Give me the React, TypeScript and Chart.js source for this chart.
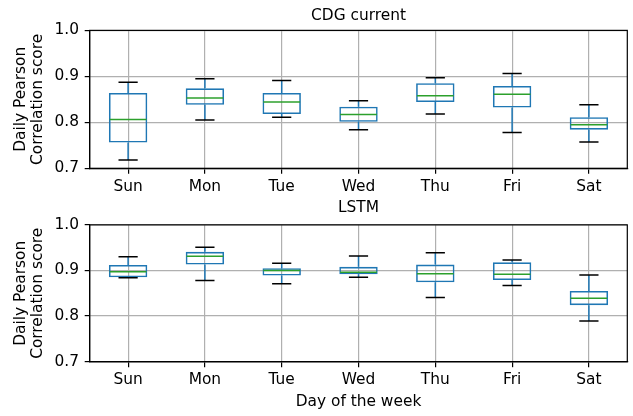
import React, { useEffect, useRef } from "react";
import { Chart, registerables } from "chart.js";

Chart.register(...registerables);

const days = ["Sun", "Mon", "Tue", "Wed", "Thu", "Fri", "Sat"];
const yTickValues = [0.7, 0.8, 0.9, 1.0];

// CDG current
const cdgLow = [0.718, 0.805, 0.811, 0.784, 0.818, 0.778, 0.757];
const cdgQ1 = [0.756, 0.838, 0.818, 0.801, 0.844, 0.832, 0.784];
const cdgMedian = [0.806, 0.853, 0.844, 0.817, 0.858, 0.861, 0.795];
const cdgQ3 = [0.864, 0.874, 0.864, 0.834, 0.885, 0.879, 0.811];
const cdgHigh = [0.887, 0.895, 0.891, 0.847, 0.897, 0.906, 0.838];

// LSTM
const lstmLow = [0.884, 0.878, 0.871, 0.885, 0.841, 0.867, 0.789];
const lstmQ1 = [0.885, 0.913, 0.889, 0.892, 0.874, 0.879, 0.824];
const lstmMedian = [0.897, 0.931, 0.9, 0.896, 0.893, 0.892, 0.839];
const lstmQ3 = [0.912, 0.941, 0.905, 0.908, 0.913, 0.918, 0.855];
const lstmHigh = [0.93, 0.951, 0.916, 0.932, 0.939, 0.923, 0.89];

const FONT = "'DejaVu Sans', sans-serif";
const FS = 15.4;
const BLUE = "#1f77b4";
const GREEN = "#2ca02c";
const GRID = "#b0b0b0";

type PanelProps = {
  title: string;
  low: number[];
  q1: number[];
  median: number[];
  q3: number[];
  high: number[];
  height: number;
  titlePadTop: number;
  titlePadBottom: number;
  xAxisHeight: number;
  xTitle?: string;
};

function Panel(p: PanelProps) {
  const ref = useRef<HTMLCanvasElement | null>(null);
  useEffect(() => {
    if (!ref.current) return;
    const boxPlugin = {
      id: "boxparts",
      afterDatasetsDraw(chart: any) {
        const ctx = chart.ctx;
        const y = chart.scales.y;
        const meta = chart.getDatasetMeta(0);
        ctx.save();
        ctx.lineWidth = 1.5;
        meta.data.forEach((bar: any, i: number) => {
          const cx = bar.x;
          const hw = bar.width / 2;
          const yLow = y.getPixelForValue(p.low[i]);
          const yQ1 = y.getPixelForValue(p.q1[i]);
          const yMed = y.getPixelForValue(p.median[i]);
          const yQ3 = y.getPixelForValue(p.q3[i]);
          const yHigh = y.getPixelForValue(p.high[i]);
          // whiskers
          ctx.strokeStyle = BLUE;
          ctx.beginPath();
          ctx.moveTo(cx, yQ3);
          ctx.lineTo(cx, yHigh);
          ctx.moveTo(cx, yQ1);
          ctx.lineTo(cx, yLow);
          ctx.stroke();
          // caps
          ctx.strokeStyle = "#000";
          ctx.beginPath();
          ctx.moveTo(cx - hw / 2, yHigh);
          ctx.lineTo(cx + hw / 2, yHigh);
          ctx.moveTo(cx - hw / 2, yLow);
          ctx.lineTo(cx + hw / 2, yLow);
          ctx.stroke();
          // median
          ctx.strokeStyle = GREEN;
          ctx.beginPath();
          ctx.moveTo(cx - hw + 0.8, yMed);
          ctx.lineTo(cx + hw - 0.8, yMed);
          ctx.stroke();
        });
        // frame
        const a = chart.chartArea;
        ctx.strokeStyle = "#000";
        ctx.lineWidth = 1.2;
        ctx.strokeRect(a.left, a.top, a.right - a.left, a.bottom - a.top);
        ctx.restore();
      },
    };

    const chart = new Chart(ref.current, {
      type: "bar",
      data: {
        labels: days,
        datasets: [
          {
            data: days.map((_, i) => [p.q1[i], p.q3[i]]) as any,
            backgroundColor: "rgba(0,0,0,0)",
            borderColor: BLUE,
            borderWidth: 1.6,
            borderSkipped: false,
            barPercentage: 0.5,
            categoryPercentage: 1,
          },
        ],
      },
      options: {
        animation: false,
        responsive: false,
        maintainAspectRatio: false,
        events: [],
        layout: { padding: { top: 0, left: 0, right: 5.7, bottom: 0 } },
        plugins: {
          legend: { display: false },
          tooltip: { enabled: false },
          title: {
            display: true,
            text: p.title,
            fullSize: false,
            color: "#000",
            font: { family: FONT, size: FS, weight: "normal", lineHeight: 1.2 },
            padding: { top: p.titlePadTop, bottom: p.titlePadBottom },
          },
        },
        scales: {
          x: {
            type: "category",
            offset: true,
            grid: {
              offset: false,
              color: GRID,
              lineWidth: 1.2,
              tickColor: "#000",
              tickLength: 5.5,
              drawTicks: true,
            },
            border: { display: true, color: "#000", width: 1.2 },
            ticks: {
              color: "#000",
              font: { family: FONT, size: FS, lineHeight: 1.2 },
              padding: 3.7,
              maxRotation: 0,
              autoSkip: false,
            },
            title: p.xTitle
              ? {
                  display: true,
                  text: p.xTitle,
                  color: "#000",
                  font: { family: FONT, size: FS, lineHeight: 1.2 },
                  padding: { top: 0, bottom: 5.1 },
                }
              : { display: false },
            afterFit(scale: any) {
              scale.height = p.xAxisHeight;
            },
          },
          y: {
            type: "linear",
            min: 0.7,
            max: 1.0,
            afterBuildTicks(scale: any) {
              scale.ticks = yTickValues.map((v) => ({ value: v }));
            },
            grid: {
              color: GRID,
              lineWidth: 1.2,
              tickColor: "#000",
              tickLength: 5,
              drawTicks: true,
            },
            border: { display: true, color: "#000", width: 1.2 },
            ticks: {
              color: "#000",
              font: { family: FONT, size: FS, lineHeight: 1.2 },
              padding: 5.7,
              callback: (v: any) => Number(v).toFixed(1),
            },
            title: {
              display: true,
              text: ["Daily Pearson", "Correlation score"],
              color: "#000",
              font: { family: FONT, size: FS, lineHeight: 1.104 },
              padding: { top: 12.5, bottom: 0 },
            },
            afterFit(scale: any) {
              scale.width = 89.7;
            },
          },
        },
      },
      plugins: [boxPlugin],
    } as any);
    return () => chart.destroy();
  }, []);
  return <canvas ref={ref} width={633} height={p.height} style={{ display: "block" }} />;
}

export default function App() {
  return (
    <div style={{ position: "absolute", left: 0, top: 0, width: 633, height: 416, background: "#fff" }}>
      <Panel
        title="CDG current"
        low={cdgLow}
        q1={cdgQ1}
        median={cdgMedian}
        q3={cdgQ3}
        high={cdgHigh}
        height={197}
        titlePadTop={6.8}
        titlePadBottom={5.1}
        xAxisHeight={197 - 168.3}
      />
      <Panel
        title="LSTM"
        low={lstmLow}
        q1={lstmQ1}
        median={lstmMedian}
        q3={lstmQ3}
        high={lstmHigh}
        height={219}
        titlePadTop={2.1}
        titlePadBottom={7.3}
        xAxisHeight={219 - 164.7}
        xTitle="Day of the week"
      />
    </div>
  );
}
